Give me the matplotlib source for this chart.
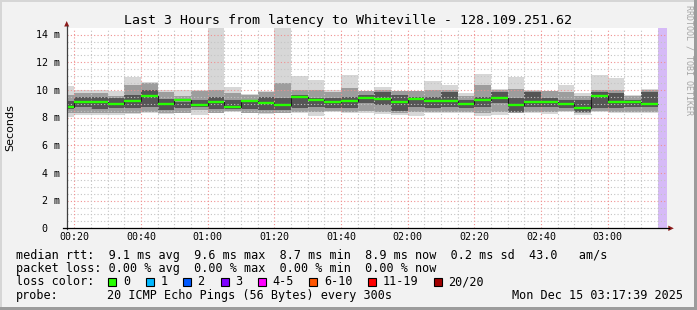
import matplotlib
matplotlib.use("Agg")
import matplotlib.pyplot as plt
from matplotlib.patches import Rectangle, Polygon
from matplotlib.lines import Line2D
from matplotlib.transforms import Affine2D
import numpy as np

# ---------------- data ----------------
interval_start = ["00:15", "00:20", "00:25", "00:30", "00:35", "00:40", "00:45", "00:50",
                  "00:55", "01:00", "01:05", "01:10", "01:15", "01:20", "01:25", "01:30",
                  "01:35", "01:40", "01:45", "01:50", "01:55", "02:00", "02:05", "02:10",
                  "02:15", "02:20", "02:25", "02:30", "02:35", "02:40", "02:45", "02:50",
                  "02:55", "03:00", "03:05", "03:10"]
median_ms = [8.79, 9.13, 9.13, 9.00, 9.22, 9.56, 9.00, 9.30, 8.93, 9.13, 8.79, 9.22,
             9.06, 8.93, 9.51, 9.30, 9.13, 9.20, 9.42, 9.37, 9.13, 9.37, 9.22, 9.22,
             8.96, 9.30, 9.44, 8.93, 9.10, 9.10, 9.00, 8.72, 9.58, 9.13, 9.13, 8.96]
max_ms = [10.29, 10.00, 10.00, 9.95, 10.96, 10.57, 10.00, 10.00, 10.00, 15.00, 10.19, 9.71,
          9.95, 15.00, 11.01, 10.72, 10.00, 11.08, 9.95, 10.19, 9.95, 9.95, 10.67, 10.36,
          9.76, 11.15, 10.05, 10.94, 10.00, 9.95, 10.36, 9.76, 11.08, 10.88, 9.63, 10.05]
upper_ms = [9.64, 9.80, 9.80, 9.56, 10.36, 10.48, 9.88, 9.56, 9.95, 10.00, 9.80, 9.64,
            9.88, 10.50, 10.00, 10.00, 9.88, 10.12, 9.95, 10.00, 9.90, 9.90, 10.00, 10.00,
            9.56, 10.36, 10.00, 10.05, 9.95, 9.95, 9.88, 9.56, 10.00, 10.00, 9.56, 10.00]
core_hi_ms = [9.22, 9.47, 9.51, 9.39, 9.64, 10.00, 9.32, 9.15, 9.27, 9.51, 9.27, 9.27,
              9.51, 9.39, 9.64, 9.39, 9.39, 9.51, 9.64, 9.88, 9.64, 9.51, 9.51, 9.88,
              9.27, 9.51, 9.88, 9.39, 9.88, 9.39, 9.27, 9.27, 9.88, 9.76, 9.27, 9.88]
core_lo_ms = [8.60, 8.74, 8.60, 8.67, 8.67, 8.79, 8.55, 8.67, 8.74, 8.60, 8.60, 8.60,
              8.55, 8.55, 8.67, 8.79, 8.67, 8.67, 9.03, 8.91, 8.50, 8.79, 8.67, 8.79,
              8.67, 8.79, 9.03, 8.43, 8.79, 8.79, 8.67, 8.43, 8.67, 8.67, 8.79, 8.79]
lower_ms = [8.36, 8.36, 8.36, 8.36, 8.36, 8.43, 8.36, 8.36, 8.55, 8.36, 8.50, 8.36,
            8.31, 8.36, 8.40, 8.40, 8.50, 8.40, 8.50, 8.40, 8.30, 8.40, 8.40, 8.40,
            8.40, 8.30, 8.40, 8.36, 8.40, 8.40, 8.50, 8.30, 8.50, 8.40, 8.40, 8.40]
min_ms = [8.07, 8.19, 8.19, 8.19, 8.24, 8.36, 8.24, 8.31, 8.19, 8.31, 8.40, 8.31,
          8.24, 8.31, 8.36, 8.12, 8.43, 8.31, 8.31, 8.24, 8.19, 8.12, 8.31, 8.31,
          8.31, 8.12, 8.19, 8.31, 8.31, 8.24, 8.43, 8.19, 8.43, 8.31, 8.31, 8.31]

interval_min = 5
window_start = "00:17:39"
window_end = "03:17:39"
unknown_start = "03:15"

x_major = ["00:20", "00:40", "01:00", "01:20", "01:40", "02:00", "02:20", "02:40", "03:00"]
y_major = [0, 2, 4, 6, 8, 10, 12, 14]
y_labels = ["0  ", "2 m", "4 m", "6 m", "8 m", "10 m", "12 m", "14 m"]
y_top = 14.5

title = "Last 3 Hours from latency to Whiteville - 128.109.251.62"
line_rtt = "median rtt:  9.1 ms avg  9.6 ms max  8.7 ms min  8.9 ms now  0.2 ms sd  43.0   am/s"
line_loss = "packet loss: 0.00 % avg  0.00 % max  0.00 % min  0.00 % now"
loss_labels = ["0", "1", "2", "3", "4-5", "6-10", "11-19", "20/20"]
loss_colors = ["#26ff00", "#00b8ff", "#0059ff", "#7e00ff", "#ff00ff", "#ff5500", "#ff0000", "#a10000"]
probe_text = "20 ICMP Echo Pings (56 Bytes) every 300s"
stamp_text = "Mon Dec 15 03:17:39 2025"


def to_min(s):
    parts = [int(p) for p in s.split(":")]
    m = parts[0] * 60 + parts[1]
    if len(parts) > 2:
        m += parts[2] / 60.0
    return m


starts = np.array([to_min(s) for s in interval_start], dtype=float)
t0, t1 = to_min(window_start), to_min(window_end)

# ---------------- figure ----------------
W, H = 697, 310
fig = plt.figure(figsize=(W / 100, H / 100), dpi=100)
fig.patch.set_facecolor("#f2f2f2")
pxT = Affine2D().scale(1.0 / W, -1.0 / H).translate(0, 1) + fig.transFigure

# frame edges
fig.add_artist(Rectangle((0, 0), W, 2, transform=pxT, color="#d6d6d6", lw=0))
fig.add_artist(Rectangle((0, 0), 2, H, transform=pxT, color="#d6d6d6", lw=0))
fig.add_artist(Rectangle((W - 3, 0), 3, H, transform=pxT, color="#9c9c9c", lw=0))
fig.add_artist(Rectangle((0, H - 3), W, 3, transform=pxT, color="#9c9c9c", lw=0))

L, R, T, B = 66.5, 666.5, 27.7, 228.3
ax = fig.add_axes([L / W, (H - B) / H, (R - L) / W, (B - T) / H])
ax.set_facecolor("white")
ax.set_xlim(t0, t1)
ax.set_ylim(0, y_top)
for s in ax.spines.values():
    s.set_visible(False)
ax.set_xticks([])
ax.set_yticks([])

# smoke
mx, up, chi, clo, lw_, mn = map(np.array, (max_ms, upper_ms, core_hi_ms, core_lo_ms, lower_ms, min_ms))
ax.bar(starts, mx - mn, bottom=mn, width=interval_min, align="edge", color="#d7d7d7", lw=0, zorder=1)
ax.bar(starts, up - lw_, bottom=lw_, width=interval_min, align="edge", color="#9d9d9d", lw=0, zorder=1.1)
ax.bar(starts, chi - clo, bottom=clo, width=interval_min, align="edge", color="#555555", lw=0, zorder=1.2)

# unknown area
ax.axvspan(to_min(unknown_start), t1, color="#d6baf7", lw=0, zorder=1.3)

# grid
dot = (0, (1.0, 2.0))
yv = np.arange(0, y_top, 0.5)
for v in yv:
    major = abs(v / 2 - round(v / 2)) < 1e-9
    if v == 0:
        continue
    ax.axhline(v, color="#f09090" if major else "#c4c4c4", lw=0.8, ls=dot, zorder=2)
maj_x = [to_min(s) for s in x_major]
xv = np.arange(maj_x[0] - 5 * interval_min, t1, interval_min)
for v in xv:
    if v <= t0:
        continue
    major = any(abs(v - m) < 1e-6 for m in maj_x)
    ax.axvline(v, color="#f09090" if major else "#c4c4c4", lw=0.8, ls=dot, zorder=2)

# median
edges = np.append(starts, starts[-1] + interval_min)
ax.stairs(median_ms, edges, baseline=None, color="#1a1a1a", lw=0.8, zorder=3)
ax.hlines(median_ms, starts, starts + interval_min, color=loss_colors[0], lw=1.7, zorder=4)

# axes lines with arrows
fig.add_artist(Line2D([L, L], [B + 1, 26], transform=pxT, color="#404040", lw=0.9))
fig.add_artist(Line2D([62.5, 668.5], [B, B], transform=pxT, color="#000000", lw=0.9))
fig.add_artist(Polygon([(64.2, 26.5), (69.2, 26.5), (66.7, 21.0)], closed=True, transform=pxT,
                       color="#8c1a1a", lw=0))
fig.add_artist(Polygon([(668.3, 225.6), (668.3, 231.0), (673.8, 228.3)], closed=True, transform=pxT,
                       color="#8c1a1a", lw=0))

mono = "DejaVu Sans Mono"


def txt(x, y, s, **kw):
    kw.setdefault("family", mono)
    kw.setdefault("color", "#000000")
    fig.text(x, y, s, transform=pxT, **kw)


# title
txt(347.5, 23.8, title, fontsize=9.5, ha="center", va="baseline")

# tick labels
to_px_x = lambda m: L + (m - t0) / (t1 - t0) * (R - L)
to_px_y = lambda v: B - v / y_top * (B - T)
for s in x_major:
    txt(to_px_x(to_min(s)), 240.3, s, fontsize=7.2, ha="center", va="baseline")
for v, s in zip(y_major, y_labels):
    txt(60.0, to_px_y(v) + 3.6, s, fontsize=7.2, ha="right", va="baseline")

txt(10.5, 128, "Seconds", family="DejaVu Sans", fontsize=8, rotation=90, ha="center", va="center")
txt(688.5, 60, "RRDTOOL / TOBI OETIKER", fontsize=6, rotation=270, ha="center", va="center",
    color="#a6a6a6")

# legend block
fs = 8.45
cw = 7.06
txt(15.5, 258.7, line_rtt, fontsize=fs, ha="left", va="baseline")
txt(15.5, 272.0, line_loss, fontsize=fs, ha="left", va="baseline")
txt(15.5, 285.3, "loss color:", fontsize=fs, ha="left", va="baseline")
xb = 108.3
for lab, col in zip(loss_labels, loss_colors):
    fig.add_artist(Rectangle((xb, 277.7), 8, 8, transform=pxT, facecolor=col, edgecolor="#000000", lw=0.8))
    txt(xb + 14.5, 285.3, lab, fontsize=fs, ha="left", va="baseline")
    xb += 37.4 + cw * (len(lab) - 1)
txt(15.5, 298.6, "probe:", fontsize=fs, ha="left", va="baseline")
txt(107.3, 298.6, probe_text, fontsize=fs, ha="left", va="baseline")
txt(512.0, 298.6, stamp_text, fontsize=fs, ha="left", va="baseline")

fig.savefig("out.png", dpi=100, facecolor=fig.get_facecolor())
